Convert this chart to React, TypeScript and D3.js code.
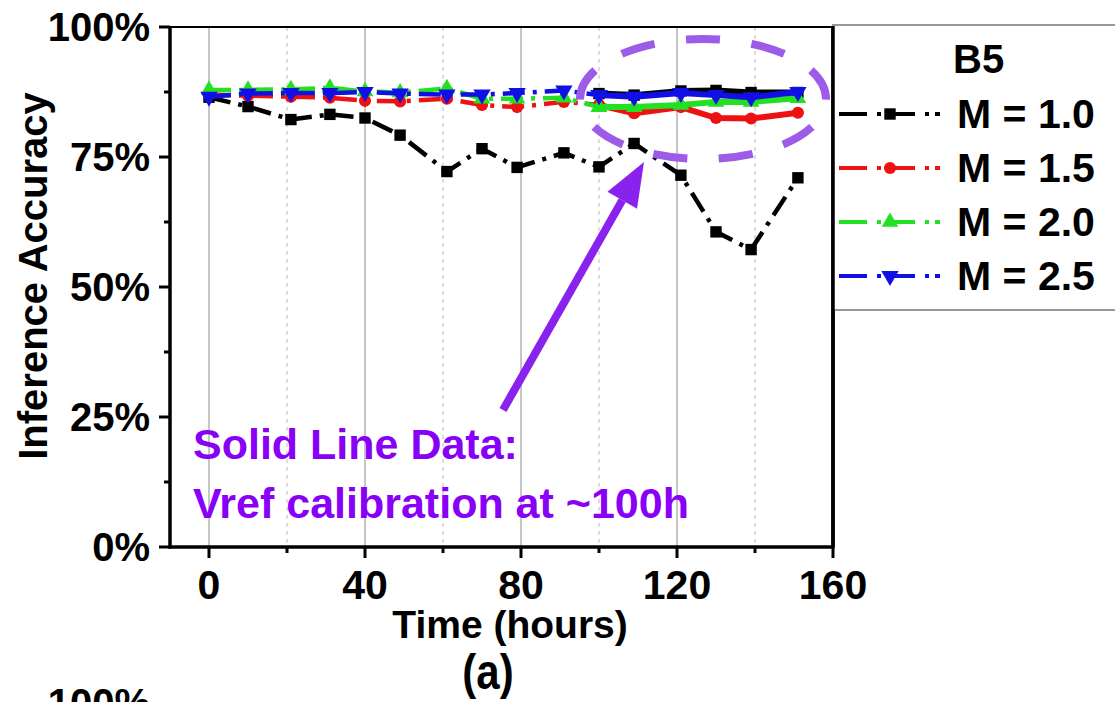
import React from "react";
import * as d3 from "d3";

// ---- data ----
const xTickLabels = [0, 40, 80, 120, 160];
const xMinorTicks = [20, 60, 100, 140];
const yTickLabels = [0, 25, 50, 75, 100];
const yMinorTicks = [12.5, 37.5, 62.5, 87.5];

const timesAll = [0, 10, 21, 31, 40, 49, 61, 70, 79, 91, 100, 109, 121, 130, 139, 151];
const timesDashed = [0, 10, 21, 31, 40, 49, 61, 70, 79, 91, 100];
const timesSolid = [100, 109, 121, 130, 139, 151];

const m10Dashed = [86.5, 84.7, 82.2, 83.2, 82.5, 79.2, 72.2, 76.6, 73.0, 75.8, 73.1, 77.6, 71.5, 60.6, 57.2, 71.0];
const m15Dashed = [87.0, 86.8, 86.6, 86.4, 85.8, 85.7, 86.2, 85.0, 84.6, 85.6, 85.0];
const m20Dashed = [87.9, 87.9, 88.0, 88.3, 87.6, 87.4, 88.2, 86.2, 86.2, 86.4, 84.6];
const m25Dashed = [86.6, 87.2, 87.3, 87.3, 87.5, 87.2, 87.0, 87.0, 87.3, 87.8, 86.9];

const m10Solid = [87.2, 86.9, 87.7, 87.8, 87.4, 87.4];
const m15Solid = [85.0, 83.4, 84.6, 82.5, 82.4, 83.5];
const m20Solid = [84.6, 84.6, 85.0, 85.6, 85.6, 86.3];
const m25Solid = [86.9, 86.6, 87.3, 86.9, 86.5, 87.5];

const seriesNames = ["M = 1.0", "M = 1.5", "M = 2.0", "M = 2.5"];
const seriesColors = ["#000000", "#ee1111", "#22e022", "#1010e6"];
const legendTitle = "B5";

const FONT = "'Liberation Sans', Arial, sans-serif";
const DASH = "22,8,4,8";

const W = 1115;
const H = 702;

const x = d3.scaleLinear().domain([-10, 160]).range([170, 833]);
const y = d3.scaleLinear().domain([0, 100]).range([547, 27]);

const line = d3
  .line<[number, number]>()
  .x((d) => x(d[0]))
  .y((d) => y(d[1]));

const symbolTypes = [d3.symbolSquare, d3.symbolCircle, d3.symbolTriangle, d3.symbolTriangle];
const symbolSizes = [130, 115, 120, 130];
const symbolRot = [0, 0, 0, 180];

function Markers({ xs, ys, idx }: { xs: number[]; ys: number[]; idx: number }) {
  const p = d3.symbol().type(symbolTypes[idx]).size(symbolSizes[idx])() as string;
  return (
    <g>
      {xs.map((t, i) => (
        <path
          key={i}
          d={p}
          fill={seriesColors[idx]}
          transform={`translate(${x(t)},${y(ys[i])}) rotate(${symbolRot[idx]})`}
        />
      ))}
    </g>
  );
}

function Series({ xs, ys, idx, dashed }: { xs: number[]; ys: number[]; idx: number; dashed: boolean }) {
  const pts = xs.map((t, i) => [t, ys[i]] as [number, number]);
  return (
    <g>
      <path
        d={line(pts) as string}
        fill="none"
        stroke={seriesColors[idx]}
        strokeWidth={dashed ? 4.5 : 6}
        strokeDasharray={dashed ? DASH : undefined}
        strokeLinejoin="round"
      />
      <Markers xs={xs} ys={ys} idx={idx} />
    </g>
  );
}

export default function App() {
  const dashedData = [
    { xs: timesAll, ys: m10Dashed },
    { xs: timesDashed, ys: m15Dashed },
    { xs: timesDashed, ys: m20Dashed },
    { xs: timesDashed, ys: m25Dashed },
  ];
  const solidData = [m10Solid, m15Solid, m20Solid, m25Solid];
  const x0 = x.range()[0];
  const x1 = x.range()[1];
  const y0 = y.range()[0];
  const y1 = y.range()[1];

  // annotation geometry
  const tip: [number, number] = [644, 162];
  const tail: [number, number] = [503, 410];
  const ang = Math.atan2(tip[1] - tail[1], tip[0] - tail[0]);
  const headLen = 44;
  const headHalf = 17;
  const bx = tip[0] - headLen * Math.cos(ang);
  const by = tip[1] - headLen * Math.sin(ang);
  const nx = -Math.sin(ang);
  const ny = Math.cos(ang);
  const head = `M${tip[0]},${tip[1]} L${bx + nx * headHalf},${by + ny * headHalf} L${bx - nx * headHalf},${by - ny * headHalf} Z`;

  return (
    <svg
      width={W}
      height={H}
      style={{ position: "absolute", left: 0, top: 0, background: "#fff" }}
      fontFamily={FONT}
    >
      <rect x={0} y={0} width={W} height={H} fill="#fff" />
      {/* gridlines */}
      {xTickLabels
        .filter((t) => t < 160)
        .map((t) => (
          <line key={"g" + t} x1={x(t)} x2={x(t)} y1={y1} y2={y0} stroke="#a8a8a8" strokeWidth={1.3} />
        ))}
      {xMinorTicks.map((t) => (
        <line
          key={"gm" + t}
          x1={x(t)}
          x2={x(t)}
          y1={y1}
          y2={y0}
          stroke="#bbb"
          strokeWidth={1}
          strokeDasharray="4,4"
        />
      ))}

      {/* series */}
      {dashedData.map((s, i) => (
        <g key={"s" + i}>
          <Series xs={s.xs} ys={s.ys} idx={i} dashed={true} />
          <Series xs={timesSolid} ys={solidData[i]} idx={i} dashed={false} />
        </g>
      ))}

      {/* frame */}
      <line x1={x0} x2={x1} y1={y1} y2={y1} stroke="#000" strokeWidth={2} />
      <line x1={x1} x2={x1} y1={y1 - 1} y2={y0} stroke="#000" strokeWidth={3.5} />
      <line x1={x0} x2={x0} y1={y1 - 1} y2={y0 + 1.5} stroke="#000" strokeWidth={3.5} />
      <line x1={x0 - 1.5} x2={x1 + 1.5} y1={y0} y2={y0} stroke="#000" strokeWidth={3.5} />

      {/* y ticks */}
      {yTickLabels.map((v) => (
        <g key={"yt" + v}>
          <line x1={x0 - 11} x2={x0} y1={y(v)} y2={y(v)} stroke="#000" strokeWidth={3} />
          <text x={150} y={y(v)} dy="0.36em" textAnchor="end" fontSize={40} fontWeight="bold">
            {v}%
          </text>
        </g>
      ))}
      {yMinorTicks.map((v) => (
        <line key={"ym" + v} x1={x0 - 6} x2={x0} y1={y(v)} y2={y(v)} stroke="#000" strokeWidth={3} />
      ))}
      {/* x ticks */}
      {xTickLabels.map((t) => (
        <g key={"xt" + t}>
          <line x1={x(t)} x2={x(t)} y1={y0} y2={y0 + 11} stroke="#000" strokeWidth={3} />
          <text x={x(t)} y={599} textAnchor="middle" fontSize={41} fontWeight="bold">
            {t}
          </text>
        </g>
      ))}
      {xMinorTicks.map((t) => (
        <line key={"xm" + t} x1={x(t)} x2={x(t)} y1={y0} y2={y0 + 6} stroke="#000" strokeWidth={3} />
      ))}

      {/* axis titles */}
      <text transform="translate(47,276) rotate(-90)" textAnchor="middle" fontSize={40} fontWeight="bold">
        Inference Accuracy
      </text>
      <text x={510} y={638} textAnchor="middle" fontSize={39} fontWeight="bold">
        Time (hours)
      </text>
      <text transform="translate(488,689) scale(1,1.18)" textAnchor="middle" fontSize={42} fontWeight="bold">
        (a)
      </text>
      <text x={150} y={717} textAnchor="end" fontSize={40} fontWeight="bold">
        100%
      </text>

      {/* legend */}
      <rect x={x1} y={25} width={320} height={285} fill="#fff" stroke="#999" strokeWidth={2} />
      <line x1={x1} x2={x1} y1={y1 - 1} y2={y0} stroke="#000" strokeWidth={3.5} />
      <text x={953} y={73} fontSize={40} fontWeight="bold">
        {legendTitle}
      </text>
      {seriesNames.map((name, i) => {
        const ly = 114 + i * 54;
        const p = d3.symbol().type(symbolTypes[i]).size(symbolSizes[i])() as string;
        return (
          <g key={"lg" + i}>
            <line
              x1={839}
              x2={940}
              y1={ly}
              y2={ly}
              stroke={seriesColors[i]}
              strokeWidth={4}
              strokeDasharray="28,10,4,6"
            />
            <path d={p} fill={seriesColors[i]} transform={`translate(890,${ly}) rotate(${symbolRot[i]})`} />
            <text x={957} y={ly + 14} fontSize={41} fontWeight="bold">
              {name}
            </text>
          </g>
        );
      })}

      {/* annotation */}
      <ellipse
        cx={703}
        cy={99}
        rx={123}
        ry={60}
        fill="none"
        stroke="#9d5ce8"
        strokeWidth={8}
        pathLength={900}
        strokeDasharray="52 48"
        strokeDashoffset={51}
      />
      <line x1={tail[0]} y1={tail[1]} x2={bx} y2={by} stroke="#8a22ee" strokeWidth={8} />
      <path d={head} fill="#8a22ee" />
      <text x={193} y={459} fontSize={43} fontWeight="bold" fill="#8800f5">
        Solid Line Data:
      </text>
      <text x={193} y={518} fontSize={43} fontWeight="bold" fill="#8800f5">
        Vref calibration at ~100h
      </text>
    </svg>
  );
}
